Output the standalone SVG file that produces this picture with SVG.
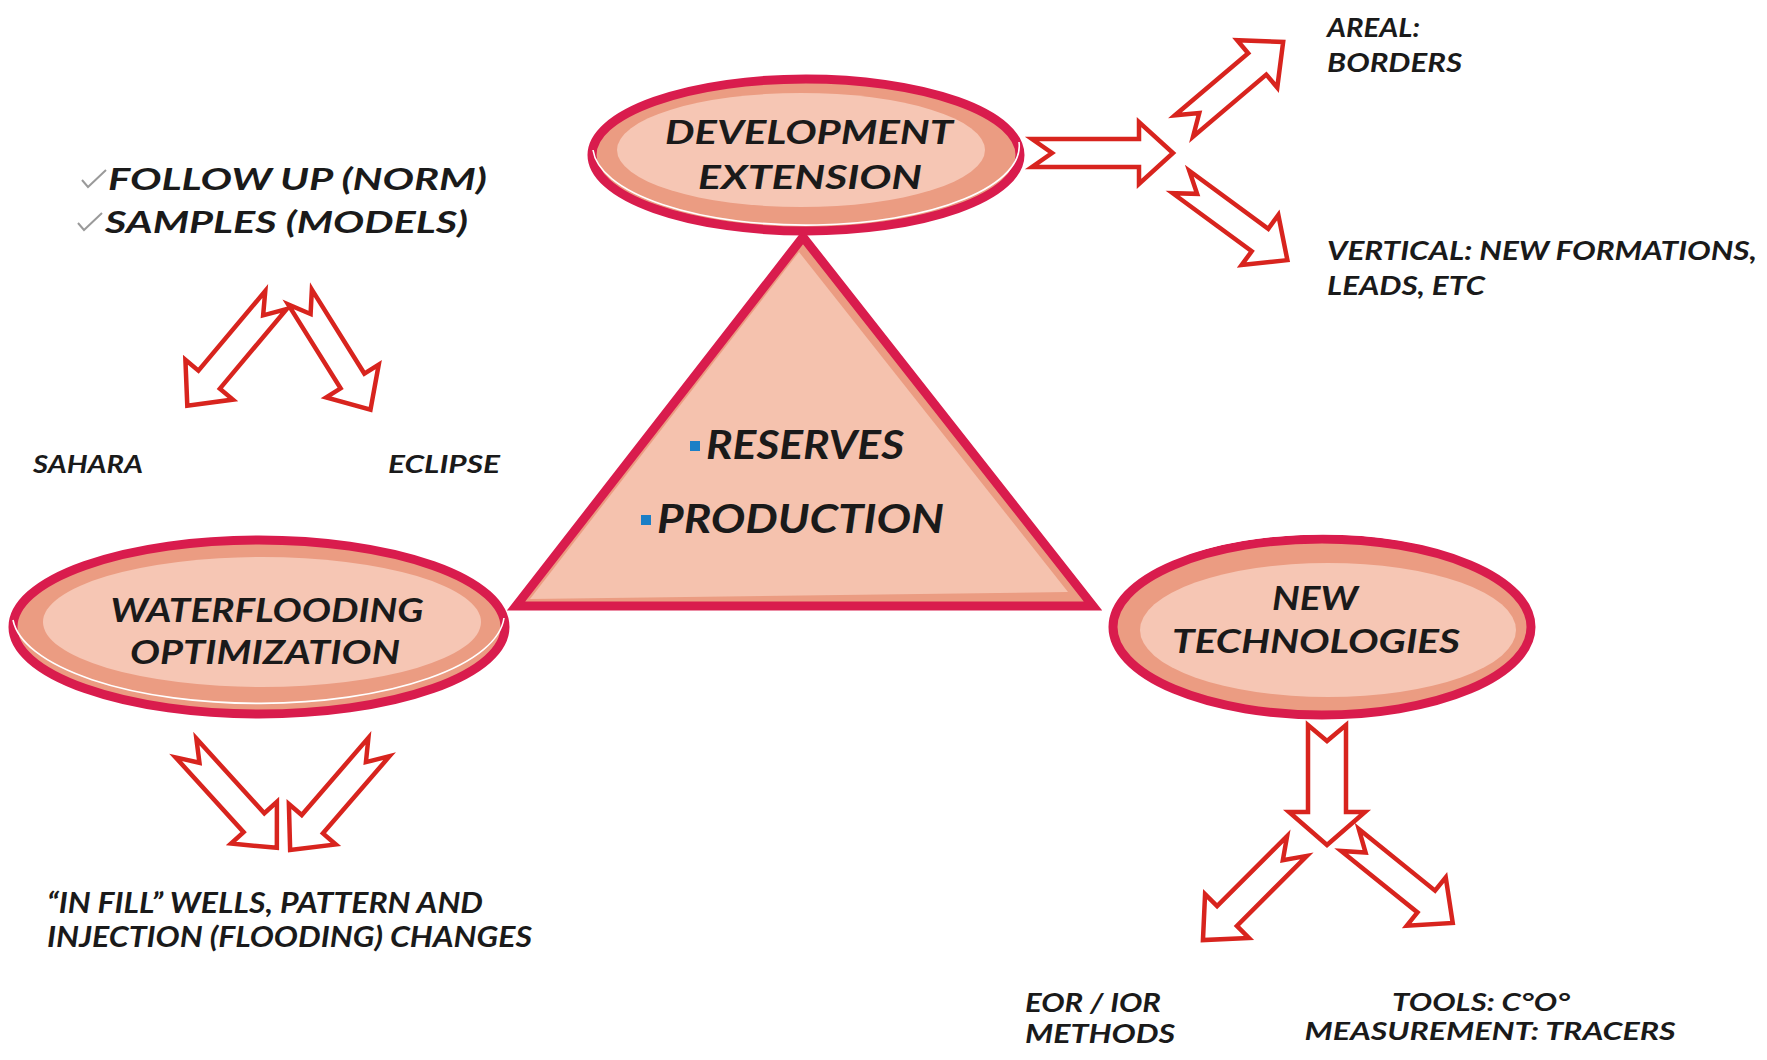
<svg xmlns="http://www.w3.org/2000/svg" width="1767" height="1060" viewBox="0 0 1767 1060">
<defs>
<style>
.t{font-family:Lato,"Open Sans","DejaVu Sans",sans-serif;font-weight:700;font-style:italic;fill:#1a1a1a}
.ring{fill:#eb9c82;stroke:#d91c4d;stroke-width:9}
.core{fill:#f6c6b4}
.hl{fill:none;stroke:#fff;stroke-width:1.6}
.arr{fill:#fff;stroke:#d8241e;stroke-width:4.5;stroke-linejoin:miter}
.chk{fill:none;stroke:#9a9a9a;stroke-width:2}
.bul{fill:#1b7fc6}
</style>
</defs>
<rect width="1767" height="1060" fill="#fff"/>

<g id="connectors">
<path class="arr" transform="translate(1032,153)" d="M0,-14 L107,-14 L107,-31 L141,0 L107,31 L107,14 L0,14 L20,0Z"/>
<path class="arr" transform="translate(1184,126) rotate(-40.3)" d="M0,-14 L96,-14 L96,-31 L130,0 L96,31 L96,14 L0,14 L20,0Z"/>
<path class="arr" transform="translate(1181,182) rotate(36.3)" d="M0,-14 L98,-14 L98,-31 L132,0 L98,31 L98,14 L0,14 L20,0Z"/>
<path class="arr" transform="translate(276,300) rotate(130)" d="M0,-14 L104,-14 L104,-31 L138,0 L104,31 L104,14 L0,14 L20,0Z"/>
<path class="arr" transform="translate(300,297) rotate(58)" d="M0,-14 L99,-14 L99,-31 L133,0 L99,31 L99,14 L0,14 L20,0Z"/>
<path class="arr" transform="translate(186,748) rotate(47.7)" d="M0,-14 L101,-14 L101,-31 L135,0 L101,31 L101,14 L0,14 L20,0Z"/>
<path class="arr" transform="translate(379,747) rotate(130.8)" d="M0,-14 L102,-14 L102,-31 L136,0 L102,31 L102,14 L0,14 L20,0Z"/>
<path class="arr" transform="translate(1327,725) rotate(90)" d="M0,-19 L87,-19 L87,-38 L120,0 L87,38 L87,19 L0,19 L16,0Z"/>
<path class="arr" transform="translate(1297,846) rotate(135)" d="M0,-14 L99,-14 L99,-31 L133,0 L99,31 L99,14 L0,14 L20,0Z"/>
<path class="arr" transform="translate(1350,840) rotate(38.9)" d="M0,-14 L98,-14 L98,-31 L132,0 L98,31 L98,14 L0,14 L20,0Z"/>
</g>

<g id="triangle">
<polygon points="803,237 516,606 1093,606" fill="#eb9c82" stroke="#d91c4d" stroke-width="9" stroke-linejoin="miter"/>
<polygon points="799,252 530,599 1068,592" fill="#f5c2ae"/>
<rect class="bul" x="690" y="441" width="10" height="10"/>
<text class="t" x="706" y="459" font-size="40" textLength="198" lengthAdjust="spacingAndGlyphs">RESERVES</text>
<rect class="bul" x="641" y="515" width="10" height="10"/>
<text class="t" x="657" y="533" font-size="40" textLength="287" lengthAdjust="spacingAndGlyphs">PRODUCTION</text>
</g>

<g id="development-extension">
<ellipse class="ring" cx="806" cy="155" rx="214" ry="76"/>
<ellipse class="core" cx="801" cy="150" rx="184" ry="57"/>
<path class="hl" d="M593,150 A213,79 0 0 0 1019,142"/>
<text class="t" x="809" y="144" font-size="33" text-anchor="middle" textLength="288" lengthAdjust="spacingAndGlyphs">DEVELOPMENT</text>
<text class="t" x="810" y="189" font-size="33" text-anchor="middle" textLength="224" lengthAdjust="spacingAndGlyphs">EXTENSION</text>
</g>

<g id="waterflooding-optimization">
<ellipse class="ring" cx="259" cy="627" rx="246" ry="87"/>
<ellipse class="core" cx="262" cy="622" rx="219" ry="65"/>
<path class="hl" d="M13,620 A246,90 0 0 0 504,618"/>
<text class="t" x="267" y="622" font-size="33" text-anchor="middle" textLength="313" lengthAdjust="spacingAndGlyphs">WATERFLOODING</text>
<text class="t" x="265" y="664" font-size="33" text-anchor="middle" textLength="270" lengthAdjust="spacingAndGlyphs">OPTIMIZATION</text>
</g>

<g id="new-technologies">
<ellipse class="ring" cx="1322" cy="627" rx="209" ry="88"/>
<ellipse class="core" cx="1328" cy="630" rx="188" ry="67"/>
<path class="hl" d="M1150,569 A210,90 0 0 1 1497,690"/>
<text class="t" x="1315" y="610" font-size="33" text-anchor="middle" textLength="86" lengthAdjust="spacingAndGlyphs">NEW</text>
<text class="t" x="1316" y="653" font-size="33" text-anchor="middle" textLength="288" lengthAdjust="spacingAndGlyphs">TECHNOLOGIES</text>
</g>

<g id="follow-up">
<path class="chk" d="M82,180 L88,187 L106,170"/>
<text class="t" x="108" y="190" font-size="31" textLength="379" lengthAdjust="spacingAndGlyphs">FOLLOW UP (NORM)</text>
<path class="chk" d="M78,223 L84,230 L102,213"/>
<text class="t" x="105" y="233" font-size="31" textLength="363" lengthAdjust="spacingAndGlyphs">SAMPLES (MODELS)</text>
</g>

<g id="sahara"><text class="t" x="33" y="473" font-size="25" textLength="110" lengthAdjust="spacingAndGlyphs">SAHARA</text></g>
<g id="eclipse"><text class="t" x="388" y="473" font-size="25" textLength="112" lengthAdjust="spacingAndGlyphs">ECLIPSE</text></g>

<g id="areal">
<text class="t" x="1327" y="37" font-size="27" textLength="93" lengthAdjust="spacingAndGlyphs">AREAL:</text>
<text class="t" x="1327" y="72" font-size="27" textLength="135" lengthAdjust="spacingAndGlyphs">BORDERS</text>
</g>
<g id="vertical">
<text class="t" x="1327" y="260" font-size="27" textLength="430" lengthAdjust="spacingAndGlyphs">VERTICAL: NEW FORMATIONS,</text>
<text class="t" x="1327" y="295" font-size="27" textLength="158" lengthAdjust="spacingAndGlyphs">LEADS, ETC</text>
</g>

<g id="in-fill">
<text class="t" x="47" y="913" font-size="28" textLength="436" lengthAdjust="spacingAndGlyphs">“IN FILL” WELLS, PATTERN AND</text>
<text class="t" x="47" y="947" font-size="28" textLength="485" lengthAdjust="spacingAndGlyphs">INJECTION (FLOODING) CHANGES</text>
</g>

<g id="eor-ior">
<text class="t" x="1025" y="1012" font-size="27" textLength="136" lengthAdjust="spacingAndGlyphs">EOR / IOR</text>
<text class="t" x="1025" y="1043" font-size="27" textLength="150" lengthAdjust="spacingAndGlyphs">METHODS</text>
</g>
<g id="tools">
<text class="t" x="1481" y="1011" font-size="25" text-anchor="middle" textLength="178" lengthAdjust="spacingAndGlyphs">TOOLS: C°O°</text>
<text class="t" x="1490" y="1040" font-size="25" text-anchor="middle" textLength="371" lengthAdjust="spacingAndGlyphs">MEASUREMENT: TRACERS</text>
</g>
</svg>
